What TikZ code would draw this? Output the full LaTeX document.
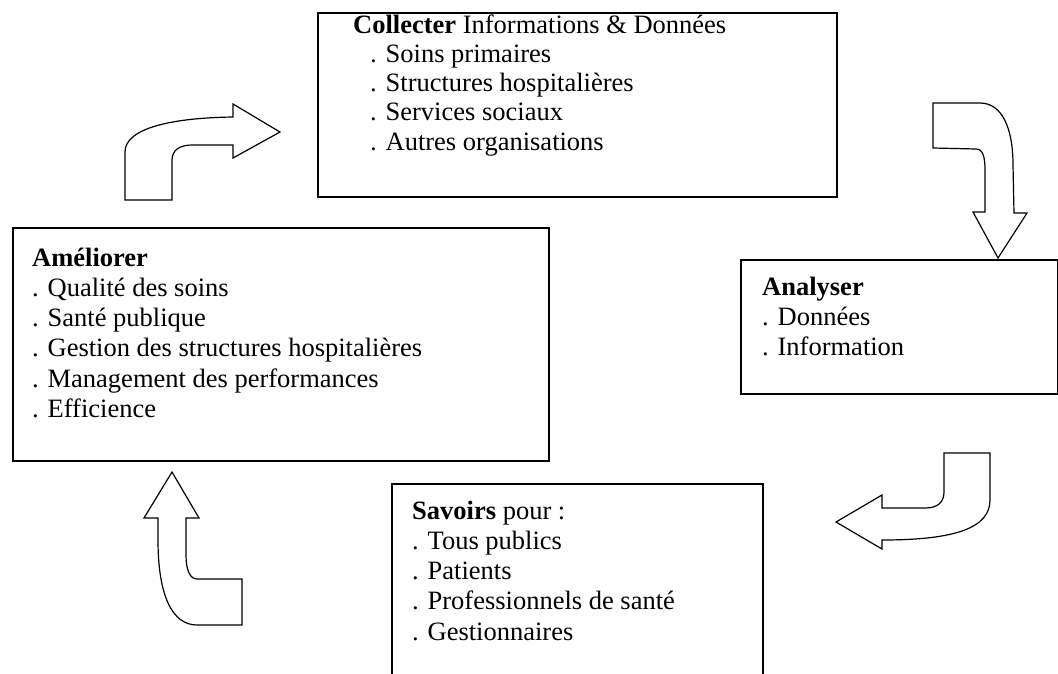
\documentclass[tikz,border=0pt]{standalone}
\usepackage{fontspec}
\setmainfont{Liberation Serif}

\begin{document}
\begin{tikzpicture}[x=1pt,y=-1pt,
  panel/.style={draw,line width=1.7pt,anchor=north west,inner sep=0pt},
  txt/.style={anchor=base west,align=left,inner sep=0pt,
    font={\fontsize{26.5}{30.3}\selectfont}},
  bloc/.style={draw,line width=1.2pt,line join=miter,fill=white}]
\useasboundingbox (0,0) rectangle (1058,673);
% cadres (coordonnees en px, y vers le bas)
\node[panel,minimum width=519pt,minimum height=184pt] (collect) at (317,12) {};
\node[panel,minimum width=536pt,minimum height=233pt] (ameliorer) at (12,227) {};
\node[panel,minimum width=317pt,minimum height=134pt] (analyser) at (740,259) {};
\node[panel,minimum width=371pt,minimum height=200pt] (savoirs) at (391,483) {};
% textes (ancre = ligne de base de la derniere ligne)
\node[txt,font={\fontsize{26.5}{29.3}\selectfont}] (collecttxt) at (353,150.2)
  {\textbf{Collecter} Informations \& Données\\
  \hspace*{17pt}. Soins primaires\\
  \hspace*{17pt}. Structures hospitalières\\
  \hspace*{17pt}. Services sociaux\\
  \hspace*{17pt}. Autres organisations};
\node[txt] (amelioretxt) at (32,417.5) {\textbf{Améliorer}\\
  . Qualité des soins\\
  . Santé publique\\
  . Gestion des structures hospitalières\\
  . Management des performances\\
  . Efficience};
\node[txt] (analysetxt) at (762,355.6) {\textbf{Analyser}\\
  . Données\\
  . Information};
\node[txt] (savoirstxt) at (412,640.2) {\textbf{Savoirs} pour :\\
  . Tous publics\\
  . Patients\\
  . Professionnels de santé\\
  . Gestionnaires};
% fleches coudees
\draw[bloc] (125,200) -- (125,152) .. controls (125,130) and (165,118) .. (233,117)
  -- (233,104) -- (280,132) -- (233,158) -- (233,145) -- (192,145)
  .. controls (180,145) and (172,150) .. (172,160) -- (172,200) -- cycle;
\draw[bloc] (933,103) -- (980,103) .. controls (1002,103) and (1013,128) .. (1013,165)
  -- (1014,213) -- (1027,213) -- (998,258) -- (973,212) -- (985,212) -- (985,170)
  .. controls (985,157) and (983,149) .. (976,149) -- (933,148) -- cycle;
\draw[bloc] (944,453) -- (990,453) -- (990,500) .. controls (990,528) and (955,540) .. (882,540)
  -- (882,549) -- (836,522) -- (882,495) -- (882,508) -- (925,508)
  .. controls (938,508) and (944,502) .. (944,492) -- cycle;
\draw[bloc] (172,472) -- (199,518) -- (186,518) -- (186,555)
  .. controls (186,570) and (190,579) .. (197,579) -- (242,579) -- (242,625) -- (197,625)
  .. controls (172,625) and (158,595) .. (158,540) -- (158,518) -- (144,518) -- cycle;
\end{tikzpicture}
\end{document}
